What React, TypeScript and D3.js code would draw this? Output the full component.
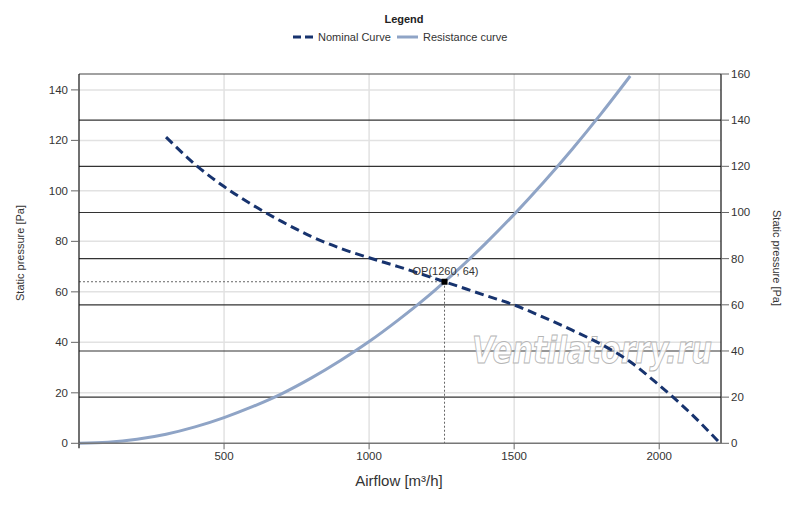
import React from "react";
import * as d3 from "d3";

// values: [airflow m³/h, static pressure Pa]
const nominalCurve: [number, number][] = [
  [300, 121.3], [400, 110.5], [500, 101.7], [600, 94.3], [700, 87.8], [800, 82.0],
  [900, 77.3], [1000, 73.5], [1100, 70.0], [1260, 64.0], [1400, 58.6], [1500, 54.8],
  [1600, 50.0], [1700, 44.8], [1800, 39.2], [1900, 32.3], [2000, 23.0], [2100, 12.8],
  [2210, 0],
];
const resistanceCurve: [number, number][] = [
  [0, 0], [100, 0.4], [200, 1.6], [300, 3.6], [400, 6.5], [500, 10.2], [600, 14.6],
  [700, 19.7], [800, 25.8], [900, 32.7], [1000, 40.3], [1100, 48.8], [1200, 58.0],
  [1260, 64.0], [1300, 68.1], [1400, 79.0], [1500, 90.7], [1600, 103.2], [1700, 116.5],
  [1800, 130.6], [1900, 145.5],
];
const operatingPoint = { q: 1260, p: 64, label: "OP(1260, 64)" };

const xTicks = [500, 1000, 1500, 2000];
const leftTicks = [0, 20, 40, 60, 80, 100, 120, 140];
const rightTicks = [0, 20, 40, 60, 80, 100, 120, 140, 160];
const legendItems = ["Nominal Curve", "Resistance curve"];

const W = 800, H = 507;
const plot = { left: 79, right: 721, top: 74, bottom: 443.3 };
const FONT = "'Liberation Sans', Arial, sans-serif";
const NAVY = "#17336e";
const STEEL = "#8fa4c6";

export default function App() {
  const x = d3.scaleLinear().domain([0, 2213]).range([plot.left, plot.right]);
  const yL = d3.scaleLinear().domain([0, 146.3]).range([plot.bottom, plot.top]);
  const yR = d3.scaleLinear().domain([0, 160]).range([plot.bottom, plot.top]);

  const line = d3.line<[number, number]>()
    .x(d => x(d[0]))
    .y(d => yL(d[1]))
    .curve(d3.curveMonotoneX);

  const opx = x(operatingPoint.q), opy = yL(operatingPoint.p);

  return (
    <div style={{ position: "absolute", left: 0, top: 0 }}>
      <svg width={W} height={H} style={{ display: "block", background: "#fff" }} fontFamily={FONT}>
        {/* legend */}
        <text x={404} y={23} textAnchor="middle" fontSize={11} fontWeight="bold" fill="#222">Legend</text>
        <line x1={293} x2={313} y1={37} y2={37} stroke={NAVY} strokeWidth={3} strokeDasharray="8,4" />
        <text x={318} y={41} fontSize={11} fill="#333">{legendItems[0]}</text>
        <line x1={397} x2={418} y1={37} y2={37} stroke={STEEL} strokeWidth={3} />
        <text x={423} y={41} fontSize={11} fill="#333">{legendItems[1]}</text>

        {/* light grid (left axis + x ticks) */}
        {leftTicks.slice(1).map(t => (
          <line key={"gl" + t} x1={plot.left} x2={plot.right} y1={yL(t)} y2={yL(t)} stroke="#e2e2e2" strokeWidth={1.5} />
        ))}
        {xTicks.map(t => (
          <line key={"gx" + t} x1={x(t)} x2={x(t)} y1={plot.top} y2={plot.bottom} stroke="#e2e2e2" strokeWidth={1.5} />
        ))}
        {/* dark grid (right axis) */}
        {rightTicks.slice(1, -1).map(t => (
          <line key={"gr" + t} x1={plot.left} x2={plot.right} y1={yR(t)} y2={yR(t)} stroke="#333" strokeWidth={1.2} />
        ))}
        <line x1={plot.left} x2={plot.right} y1={plot.top} y2={plot.top} stroke="#444" strokeWidth={1.2} />

        {/* watermark */}
        <text x={592} y={363} textAnchor="middle" fontSize={38} fontStyle="italic" fontWeight="bold"
          fontFamily="'DejaVu Sans', sans-serif" fill="#fff" fillOpacity={0.85} stroke="#b5b5b5" strokeWidth={1}
          textLength={240} lengthAdjust="spacingAndGlyphs">Ventilatorry.ru</text>

        {/* operating point guides */}
        <line x1={plot.left} x2={opx} y1={opy} y2={opy} stroke="#666" strokeWidth={1} strokeDasharray="2,2" />
        <line x1={opx} x2={opx} y1={opy} y2={plot.bottom} stroke="#666" strokeWidth={1} strokeDasharray="2,2" />

        {/* curves */}
        <path d={line(resistanceCurve) ?? ""} fill="none" stroke={STEEL} strokeWidth={3} />
        <path d={line(nominalCurve) ?? ""} fill="none" stroke={NAVY} strokeWidth={3} strokeDasharray="9,5" />

        <rect x={opx - 3} y={opy - 3} width={6} height={6} fill="#000" />
        <text x={opx + 1} y={opy - 7} textAnchor="middle" fontSize={11} fill="#333">{operatingPoint.label}</text>

        {/* axes */}
        <line x1={plot.left} x2={plot.left} y1={plot.top} y2={plot.bottom + 5} stroke="#111" strokeWidth={1.2} />
        <line x1={plot.right} x2={plot.right} y1={plot.top} y2={plot.bottom} stroke="#111" strokeWidth={1.2} />
        <line x1={plot.left} x2={plot.right} y1={plot.bottom} y2={plot.bottom} stroke="#777" strokeWidth={1.5} />

        {leftTicks.map(t => (
          <g key={"lt" + t}>
            <line x1={plot.left - 8} x2={plot.left} y1={yL(t)} y2={yL(t)} stroke="#666" strokeWidth={1} />
            <text x={68} y={yL(t) + 4} textAnchor="end" fontSize={11.5} fill="#333">{t}</text>
          </g>
        ))}
        {rightTicks.map(t => (
          <g key={"rt" + t}>
            <line x1={plot.right} x2={plot.right + 8} y1={yR(t)} y2={yR(t)} stroke="#666" strokeWidth={1} />
            <text x={731} y={yR(t) + 4} textAnchor="start" fontSize={11.5} fill="#333">{t}</text>
          </g>
        ))}
        {xTicks.map(t => (
          <g key={"xt" + t}>
            <line x1={x(t)} x2={x(t)} y1={plot.bottom} y2={plot.bottom + 6} stroke="#666" strokeWidth={1} />
            <text x={x(t)} y={460} textAnchor="middle" fontSize={11.5} fill="#333">{t}</text>
          </g>
        ))}

        {/* axis titles */}
        <text x={399} y={486} textAnchor="middle" fontSize={15} fill="#333">Airflow [m³/h]</text>
        <text transform={`translate(24,253) rotate(-90)`} textAnchor="middle" fontSize={11} fill="#333">Static pressure [Pa]</text>
        <text transform={`translate(773,258) rotate(90)`} textAnchor="middle" fontSize={11} fill="#333">Static pressure [Pa]</text>
      </svg>
    </div>
  );
}
